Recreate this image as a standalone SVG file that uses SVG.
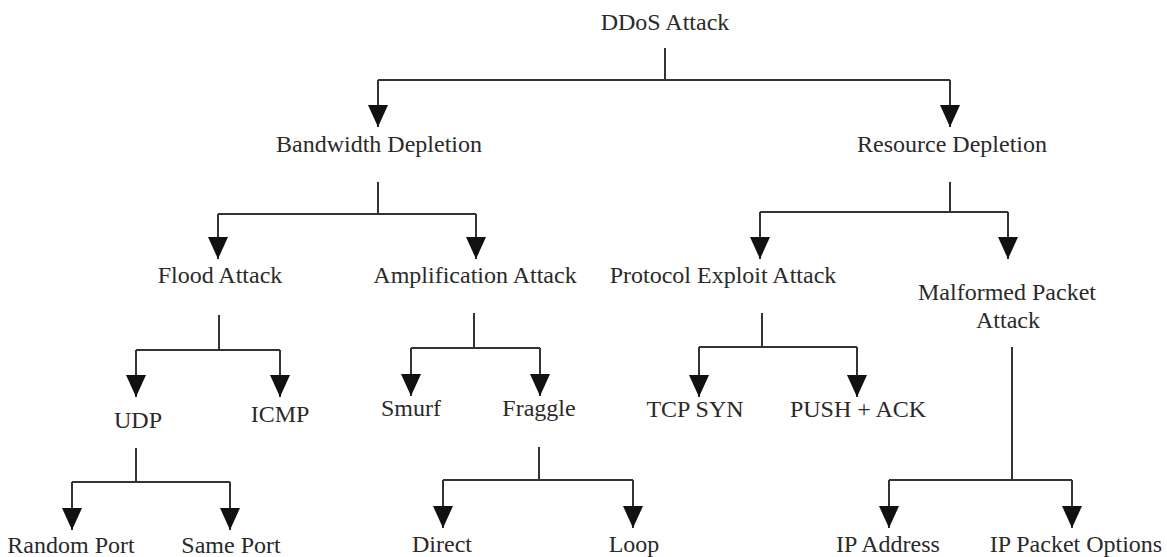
<svg xmlns="http://www.w3.org/2000/svg" width="1167" height="557" viewBox="0 0 1167 557">
<defs>
<marker id="arr" markerUnits="userSpaceOnUse" markerWidth="22" markerHeight="20" viewBox="0 0 22 20" refX="22" refY="10" orient="auto">
<path d="M0,0 L22,10 L0,20 z" fill="#111"/>
</marker>
<style>
text{font-family:"Liberation Serif","Times New Roman",serif;font-size:24px;fill:#2a2a2a;text-anchor:middle}
.c path{fill:none;stroke:#333;stroke-width:2}
.c path.a{marker-end:url(#arr)}
</style>
</defs>
<rect width="1167" height="557" fill="#fff"/>
<g class="c" id="connectors">
<path d="M665,48 V80 M378,80 H950"/>
<path class="a" d="M378,80 V127"/>
<path class="a" d="M950,80 V127"/>
<path d="M378,182 V214 M218,214 H476"/>
<path class="a" d="M218,214 V259"/>
<path class="a" d="M476,214 V259"/>
<path d="M950,182 V212 M760,212 H1008"/>
<path class="a" d="M760,212 V259"/>
<path class="a" d="M1008,212 V259"/>
<path d="M219,315 V350 M136,350 H280"/>
<path class="a" d="M136,350 V397"/>
<path class="a" d="M280,350 V397"/>
<path d="M474,313 V348 M411,348 H540"/>
<path class="a" d="M411,348 V396"/>
<path class="a" d="M540,348 V396"/>
<path d="M762,313 V347 M699,347 H857"/>
<path class="a" d="M699,347 V397"/>
<path class="a" d="M857,347 V397"/>
<path d="M1012,347 V480 M889,480 H1072"/>
<path class="a" d="M889,480 V528"/>
<path class="a" d="M1072,480 V528"/>
<path d="M136,448 V482 M72,482 H230"/>
<path class="a" d="M72,482 V530"/>
<path class="a" d="M230,482 V530"/>
<path d="M539,447 V480 M443,480 H633"/>
<path class="a" d="M443,480 V528"/>
<path class="a" d="M633,480 V528"/>
</g>
<g id="ddos"><text x="665" y="30">DDoS Attack</text></g>
<g id="bandwidth"><text x="379" y="152">Bandwidth Depletion</text></g>
<g id="resource"><text x="952" y="152">Resource Depletion</text></g>
<g id="flood"><text x="220" y="283">Flood Attack</text></g>
<g id="amplification"><text x="475" y="283">Amplification Attack</text></g>
<g id="protocol"><text x="723" y="283">Protocol Exploit Attack</text></g>
<g id="malformed"><text x="1007" y="300">Malformed Packet</text><text x="1008" y="328">Attack</text></g>
<g id="udp"><text x="138" y="428">UDP</text></g>
<g id="icmp"><text x="280" y="422">ICMP</text></g>
<g id="smurf"><text x="411" y="416">Smurf</text></g>
<g id="fraggle"><text x="539" y="416">Fraggle</text></g>
<g id="tcpsyn"><text x="695" y="417">TCP SYN</text></g>
<g id="pushack"><text x="858" y="417">PUSH + ACK</text></g>
<g id="random"><text x="71" y="553">Random Port</text></g>
<g id="same"><text x="231" y="553">Same Port</text></g>
<g id="direct"><text x="442" y="552">Direct</text></g>
<g id="loop"><text x="634" y="552">Loop</text></g>
<g id="ipaddr"><text x="888" y="552">IP Address</text></g>
<g id="ipopts"><text x="1076" y="552">IP Packet Options</text></g>
</svg>
